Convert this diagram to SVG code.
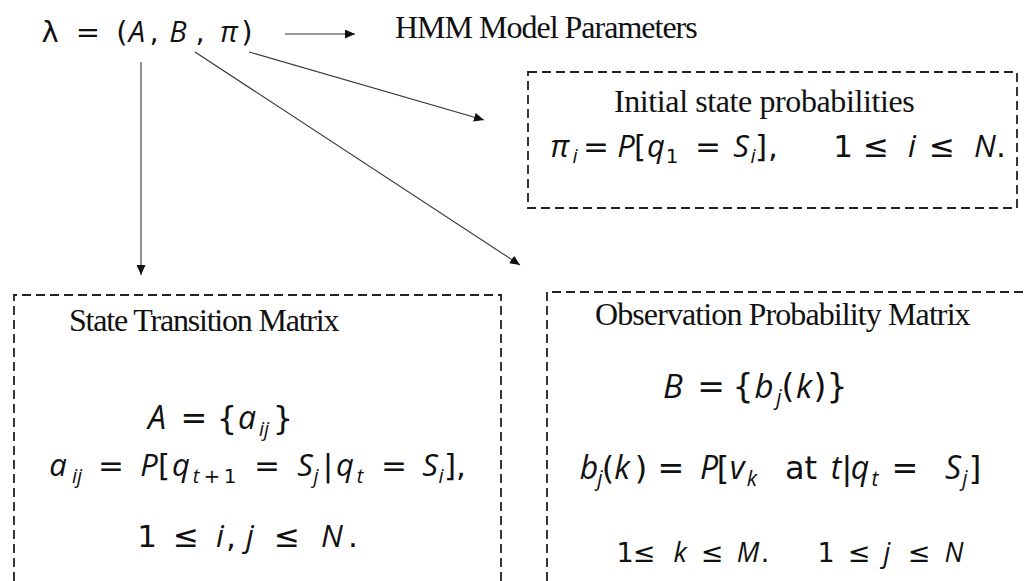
<svg xmlns="http://www.w3.org/2000/svg" width="1028" height="581" viewBox="0 0 1028 581">
  <defs>
    <marker id="arrow" viewBox="0 0 10 10" refX="10" refY="5" markerWidth="10" markerHeight="9" markerUnits="userSpaceOnUse" orient="auto" preserveAspectRatio="none">
      <path d="M0,0 L10,5 L0,10 Z" fill="#111"/>
    </marker>
    <style>
      .title { font-family: "Liberation Serif", "Times New Roman", serif; font-size: 32px; fill: #111; }
      .math { font-family: "DejaVu Sans", "Open Sans", sans-serif; fill: #111; text-anchor: middle; }
      .it { font-family: "Open Sans", "DejaVu Sans", sans-serif; font-style: italic; }
      .box { fill: none; stroke: #222; stroke-width: 1.8; stroke-dasharray: 9 5; }
      .edge { fill: none; stroke: #333; stroke-width: 1.1; marker-end: url(#arrow); }
    </style>
  </defs>
  <rect width="1028" height="581" fill="#fff"/>

  <!-- model tuple -->
  <g id="model">
    <text class="math" font-size="29" y="42"><tspan x="50">λ</tspan><tspan x="88">=</tspan><tspan x="122">(</tspan><tspan x="137" class="it">A</tspan><tspan x="154">,</tspan><tspan x="178" class="it">B</tspan><tspan x="200">,</tspan><tspan x="229" class="it">π</tspan><tspan x="247">)</tspan></text>
    <text class="title" x="395" y="38" letter-spacing="-1">HMM Model Parameters</text>
  </g>

  <!-- initial state probabilities -->
  <g id="initial">
    <rect class="box" x="528" y="72" width="489" height="136"/>
    <text class="title" x="614" y="112" letter-spacing="-0.4">Initial state probabilities</text>
    <text class="math" font-size="31" y="157"><tspan x="560" class="it">π</tspan><tspan x="575" y="163" class="it" font-size="20">i</tspan><tspan x="596" y="157">=</tspan><tspan x="626" class="it">P</tspan><tspan x="640">[</tspan><tspan x="656" class="it">q</tspan><tspan x="672" y="163" font-size="20">1</tspan><tspan x="708" y="157">=</tspan><tspan x="741" class="it">S</tspan><tspan x="753" y="163" class="it" font-size="20">i</tspan><tspan x="761" y="157">]</tspan><tspan x="773">,</tspan><tspan x="843">1</tspan><tspan x="876">≤</tspan><tspan x="912" class="it">i</tspan><tspan x="942">≤</tspan><tspan x="985" class="it">N</tspan><tspan x="1001">.</tspan></text>
  </g>

  <!-- state transition matrix -->
  <g id="transition">
    <path class="box" d="M14,581 V295 H501 V581"/>
    <text class="title" x="69" y="331" letter-spacing="-1.2">State Transition Matrix</text>
    <text class="math" font-size="32" y="429"><tspan x="157" class="it">A</tspan><tspan x="194">=</tspan><tspan x="227">{</tspan><tspan x="247" class="it">a</tspan><tspan x="264" y="436" class="it" font-size="20">ij</tspan><tspan x="283" y="429">}</tspan></text>
    <text class="math" font-size="31" y="476"><tspan x="58" class="it">a</tspan><tspan x="77" y="483" class="it" font-size="20">ij</tspan><tspan x="111" y="476">=</tspan><tspan x="149" class="it">P</tspan><tspan x="164">[</tspan><tspan x="181" class="it">q</tspan><tspan x="196" y="483" class="it" font-size="20">t</tspan><tspan x="212" font-size="20">+</tspan><tspan x="230" font-size="20">1</tspan><tspan x="267" y="476">=</tspan><tspan x="305" class="it">S</tspan><tspan x="316" y="483" class="it" font-size="20">j</tspan><tspan x="328" y="476">|</tspan><tspan x="345" class="it">q</tspan><tspan x="360" y="483" class="it" font-size="20">t</tspan><tspan x="394" y="476">=</tspan><tspan x="430" class="it">S</tspan><tspan x="441" y="483" class="it" font-size="20">i</tspan><tspan x="450" y="476">]</tspan><tspan x="461">,</tspan></text>
    <text class="math" font-size="31" y="547"><tspan x="147">1</tspan><tspan x="186">≤</tspan><tspan x="220" class="it">i</tspan><tspan x="231">,</tspan><tspan x="250" class="it">j</tspan><tspan x="287">≤</tspan><tspan x="332" class="it">N</tspan><tspan x="353">.</tspan></text>
  </g>

  <!-- observation probability matrix -->
  <g id="observation">
    <path class="box" d="M547,581 V292 H1028"/>
    <text class="title" x="595" y="325" font-size="31" letter-spacing="-0.9">Observation Probability Matrix</text>
    <text class="math" font-size="33" y="398"><tspan x="673" class="it">B</tspan><tspan x="711">=</tspan><tspan x="743">{</tspan><tspan x="764" class="it">b</tspan><tspan x="779" y="405" class="it" font-size="21">j</tspan><tspan x="788" y="398">(</tspan><tspan x="804" class="it">k</tspan><tspan x="820">)</tspan><tspan x="837">}</tspan></text>
    <text class="math" font-size="32" y="479"><tspan x="589" class="it">b</tspan><tspan x="600" y="486" class="it" font-size="21">j</tspan><tspan x="608" y="479">(</tspan><tspan x="622" class="it">k</tspan><tspan x="641">)</tspan><tspan x="671">=</tspan><tspan x="709" class="it">P</tspan><tspan x="723">[</tspan><tspan x="737" class="it">v</tspan><tspan x="752" y="486" class="it" font-size="21">k</tspan><tspan x="801" y="479">at</tspan><tspan x="836" class="it">t</tspan><tspan x="847">|</tspan><tspan x="860" class="it">q</tspan><tspan x="875" y="486" class="it" font-size="21">t</tspan><tspan x="905" y="479">=</tspan><tspan x="953" class="it">S</tspan><tspan x="965" y="486" class="it" font-size="21">j</tspan><tspan x="975" y="479">]</tspan></text>
    <text class="math" font-size="27" y="562"><tspan x="625">1</tspan><tspan x="644">≤</tspan><tspan x="680" class="it">k</tspan><tspan x="712">≤</tspan><tspan x="748" class="it">M</tspan><tspan x="765">.</tspan><tspan x="826">1</tspan><tspan x="859">≤</tspan><tspan x="887" class="it">j</tspan><tspan x="919">≤</tspan><tspan x="954" class="it">N</tspan></text>
  </g>

  <!-- connectors -->
  <g id="connectors">
    <line class="edge" x1="285" y1="34" x2="355" y2="34"/>
    <line class="edge" x1="141" y1="62" x2="141" y2="275"/>
    <line class="edge" x1="195" y1="52" x2="520" y2="265"/>
    <line class="edge" x1="249" y1="52" x2="484" y2="120"/>
  </g>
</svg>
